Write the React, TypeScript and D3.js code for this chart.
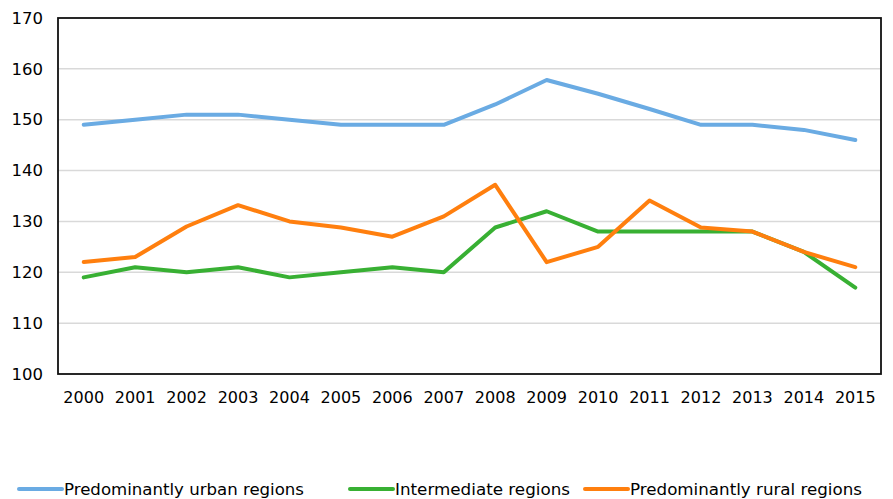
import React from 'react';
import * as d3 from 'd3';

const years = ['2000', '2001', '2002', '2003', '2004', '2005', '2006', '2007', '2008', '2009', '2010', '2011', '2012', '2013', '2014', '2015'];
const urbanValues = [149, 150, 151, 151, 150, 149, 149, 149, 153, 157.8, 155.1, 152.1, 149, 149, 148, 146];
const intermediateValues = [119, 121, 120, 121, 119, 120, 121, 120, 128.8, 132, 128, 128, 128, 128, 124, 117];
const ruralValues = [122, 123, 129, 133.2, 130, 128.8, 127, 131, 137.2, 122, 125, 134.1, 128.8, 128, 124, 121];
const yTicks = [100, 110, 120, 130, 140, 150, 160, 170];

const seriesList = [
  { name: 'Predominantly urban regions', values: urbanValues, color: '#6AABE3' },
  { name: 'Intermediate regions', values: intermediateValues, color: '#38B033' },
  { name: 'Predominantly rural regions', values: ruralValues, color: '#FF7F0E' },
];

const width = 893;
const height = 499;

const App = () => {
  const margin = { top: 18, right: 12, bottom: 125, left: 58 };
  const innerRight = width - margin.right;
  const innerBottom = height - margin.bottom;

  const x = d3.scaleBand().domain(years).range([margin.left, innerRight]).padding(0);
  const y = d3.scaleLinear().domain([100, 170]).range([innerBottom, margin.top]);

  const line = d3
    .line<number>()
    .x((d, i) => (x(years[i]) as number) + x.bandwidth() / 2)
    .y(d => y(d));

  // legend: swatch start x and text widths
  const legendX = [19, 350, 585];
  const legendTextW = [240, 175, 232];

  return (
    <svg width={width} height={height} style={{ position: 'absolute', left: 0, top: 0 }} fontFamily="'DejaVu Sans', Verdana, sans-serif">
      <rect x={0} y={0} width={width} height={height} fill="#fff" />
      {yTicks.map(t => (
        <g key={t}>
          {t > 100 && t < 170 && (
            <line x1={margin.left} x2={innerRight} y1={y(t)} y2={y(t)} stroke="#d9d9d9" strokeWidth={1.5} />
          )}
          <text x={43} y={y(t)} dy="0.35em" textAnchor="end" fontSize={16.5} fill="#000">
            {t}
          </text>
        </g>
      ))}
      <rect
        x={margin.left}
        y={margin.top}
        width={innerRight - margin.left}
        height={innerBottom - margin.top}
        fill="none"
        stroke="#111"
        strokeWidth={1.8}
      />
      {years.map(yr => (
        <text key={yr} x={(x(yr) as number) + x.bandwidth() / 2} y={403} textAnchor="middle" fontSize={16} fill="#000">
          {yr}
        </text>
      ))}
      {seriesList.map(s => (
        <path key={s.name} d={line(s.values) || ''} fill="none" stroke={s.color} strokeWidth={4} strokeLinejoin="round" strokeLinecap="round" />
      ))}
      {seriesList.map((s, i) => (
        <g key={s.name} transform={`translate(${legendX[i]}, 489)`}>
          <line x1={0} x2={43} y1={0} y2={0} stroke={s.color} strokeWidth={4} strokeLinecap="round" />
          <text x={45} y={0} dy="0.35em" fontSize={16} fill="#000" textLength={legendTextW[i]} lengthAdjust="spacingAndGlyphs">
            {s.name}
          </text>
        </g>
      ))}
    </svg>
  );
};

export default App;
